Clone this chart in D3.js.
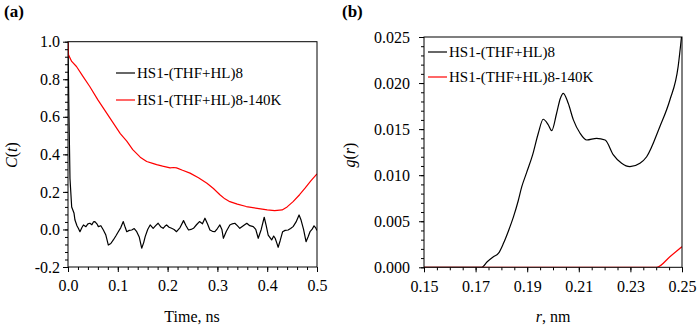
<!DOCTYPE html>
<html>
<head>
<meta charset="utf-8">
<script src="https://cdn.jsdelivr.net/npm/d3@7"></script>
<style>
  body { margin: 0; background: #fff; }
  text { font-family: "Liberation Serif", "Times New Roman", serif; fill: #000; }
</style>
</head>
<body>
<svg id="chart" width="697" height="332"></svg>
<script>
/* data */
const seriesNames = ["HS1-(THF+HL)8", "HS1-(THF+HL)8-140K"];

// panel (a): C(t)
const aBlackT = [0, 0.002, 0.004, 0.0074, 0.012, 0.014, 0.018, 0.021, 0.024, 0.028, 0.031, 0.036, 0.04, 0.044, 0.048,
  0.051, 0.054, 0.058, 0.061, 0.066, 0.071, 0.076, 0.081, 0.086, 0.091, 0.096, 0.101, 0.106, 0.111, 0.115, 0.118,
  0.123, 0.128, 0.133, 0.138, 0.143, 0.148, 0.152, 0.155, 0.16, 0.165, 0.168, 0.171, 0.176, 0.181, 0.186, 0.191,
  0.195, 0.198, 0.203, 0.208, 0.213, 0.218, 0.225, 0.232, 0.237, 0.242, 0.247, 0.252, 0.258, 0.264, 0.27, 0.275,
  0.28, 0.285, 0.29, 0.295, 0.3, 0.305, 0.309, 0.312, 0.318, 0.325, 0.33, 0.335, 0.34, 0.345, 0.352, 0.359, 0.365,
  0.372, 0.377, 0.382, 0.388, 0.394, 0.398, 0.402, 0.406, 0.409, 0.413, 0.416, 0.419, 0.422, 0.426, 0.431, 0.436,
  0.442, 0.447, 0.452, 0.458, 0.464, 0.468, 0.473, 0.478, 0.482, 0.486, 0.49, 0.494, 0.497, 0.5];
const aBlack = [1.0, 0.6, 0.27, 0.12, 0.088, 0.05, 0.02, 0.005, -0.012, 0.01, 0.024, 0.015, 0.03, 0.033, 0.025,
  0.04, 0.042, 0.03, 0.015, 0.02, -0.003, -0.03, -0.083, -0.075, -0.056, -0.035, -0.012, 0.01, 0.042, 0.01, -0.012,
  -0.005, -0.003, 0.005, -0.012, -0.04, -0.1, -0.07, -0.038, 0.0, 0.024, 0.015, 0.006, 0.02, 0.033, 0.015, 0.006,
  0.018, 0.024, 0.012, 0.006, 0.0, -0.012, 0.01, 0.047, 0.02, -0.003, 0.0, 0.006, 0.025, 0.042, 0.03, 0.06,
  0.03, -0.003, -0.01, -0.012, 0.005, 0.024, 0.0, -0.047, -0.01, 0.024, 0.03, 0.033, 0.02, 0.006, 0.02, 0.033, 0.02,
  0.015, 0.0, -0.047, 0.0, 0.065, 0.02, -0.03, -0.045, -0.056, -0.035, -0.047, -0.07, -0.095, -0.06, -0.012, -0.005,
  -0.003, 0.005, 0.015, 0.04, 0.077, 0.05, 0.0, -0.065, -0.04, -0.012, 0.0, 0.019, 0.01, -0.006];

const aRedT = [0, 0.001, 0.0074, 0.017, 0.03, 0.044, 0.06, 0.075, 0.09, 0.105, 0.118, 0.13, 0.145, 0.158, 0.17,
  0.178, 0.19, 0.205, 0.212, 0.218, 0.23, 0.245, 0.262, 0.279, 0.292, 0.305, 0.315, 0.325, 0.34, 0.358, 0.38,
  0.4, 0.415, 0.43, 0.44, 0.452, 0.465, 0.476, 0.488, 0.5];
const aRed = [1.0, 0.93, 0.895, 0.868, 0.815, 0.76, 0.69, 0.63, 0.57, 0.51, 0.47, 0.425, 0.385, 0.362, 0.352,
  0.345, 0.337, 0.328, 0.33, 0.328, 0.315, 0.3, 0.275, 0.246, 0.218, 0.185, 0.163, 0.148, 0.135, 0.122, 0.112,
  0.104, 0.1, 0.104, 0.12, 0.148, 0.185, 0.22, 0.26, 0.296];

const aXTicks = [0, 0.1, 0.2, 0.3, 0.4, 0.5];
const aYTicks = [-0.2, 0, 0.2, 0.4, 0.6, 0.8, 1.0];

// panel (b): g(r)
const bBlackR = [0.15, 0.1724, 0.1745, 0.1769, 0.1788, 0.1808, 0.1828, 0.1847, 0.1865, 0.1879, 0.1898, 0.1921,
  0.1943, 0.1962, 0.1982, 0.1995, 0.2014, 0.2028, 0.204, 0.2059, 0.2079, 0.2105, 0.2131, 0.2169, 0.2202, 0.2234,
  0.2266, 0.2298, 0.2337, 0.2363, 0.2414, 0.2453, 0.2485, 0.2498];
const bBlack = [0, 0, 0.0006, 0.00115, 0.0015, 0.0026, 0.004, 0.0055, 0.0072, 0.00875, 0.0103, 0.0122,
  0.01455, 0.01607, 0.01545, 0.01483, 0.01672, 0.0183, 0.01889, 0.0178, 0.016, 0.01455, 0.01382, 0.014, 0.01382, 0.0122,
  0.01129, 0.01092, 0.01129, 0.012, 0.01526, 0.01816, 0.02178, 0.025];

const bRedR = [0.15, 0.2402, 0.2453, 0.25];
const bRed = [0, 0, 0.00115, 0.00224];

const bXTicks = [0.15, 0.17, 0.19, 0.21, 0.23, 0.25];
const bYTicks = [0, 0.005, 0.01, 0.015, 0.02, 0.025];

const svg = d3.select("#chart");
svg.append("rect").attr("width", 697).attr("height", 332).attr("fill", "#fff");

function panel(opt) {
  const x = d3.scaleLinear().domain(opt.xDomain).range(opt.xRange);
  const y = d3.scaleLinear().domain(opt.yDomain).range(opt.yRange);
  const g = svg.append("g");

  // minor ticks first
  g.append("g")
    .attr("transform", `translate(0,${opt.yRange[0]})`)
    .call(d3.axisBottom(x).tickValues(opt.xMinor).tickSize(3).tickFormat(""))
    .call(s => s.select(".domain").remove());
  g.append("g")
    .attr("transform", `translate(${opt.xRange[0]},0)`)
    .call(d3.axisLeft(y).tickValues(opt.yMinor).tickSize(3).tickFormat(""))
    .call(s => s.select(".domain").remove());

  const xa = g.append("g")
    .attr("transform", `translate(0,${opt.yRange[0]})`)
    .call(d3.axisBottom(x).tickValues(opt.xTicks).tickSize(5).tickPadding(8).tickFormat(opt.xFmt));
  const ya = g.append("g")
    .attr("transform", `translate(${opt.xRange[0]},0)`)
    .call(d3.axisLeft(y).tickValues(opt.yTicks).tickSize(5).tickPadding(opt.yPad).tickFormat(opt.yFmt));
  [xa, ya].forEach(a => {
    a.select(".domain").remove();
    a.selectAll("text").style("font-family", '"Liberation Serif", serif').style("font-size", "16px").attr("fill", "#000");
  });
  g.selectAll(".tick line").attr("stroke", "#000");

  const clipId = "clip" + opt.id;
  g.append("clipPath").attr("id", clipId).append("rect")
    .attr("x", opt.xRange[0]).attr("y", opt.yRange[1])
    .attr("width", opt.xRange[1] - opt.xRange[0]).attr("height", opt.yRange[0] - opt.yRange[1]);

  opt.series.forEach(s => {
    const line = d3.line().x((d, i) => x(s.xs[i])).y(d => y(d)).curve(opt.curve);
    g.append("path")
      .datum(s.ys)
      .attr("clip-path", `url(#${clipId})`)
      .attr("d", line)
      .attr("fill", "none")
      .attr("stroke", s.color)
      .attr("stroke-width", 1.2)
      .attr("stroke-linejoin", "round");
  });

  g.append("rect")
    .attr("x", opt.xRange[0]).attr("y", opt.yRange[1])
    .attr("width", opt.xRange[1] - opt.xRange[0]).attr("height", opt.yRange[0] - opt.yRange[1])
    .attr("fill", "none").attr("stroke", "#000").attr("stroke-width", 1);

  // legend
  opt.series.forEach((s, i) => {
    const ly = opt.legend.y + i * opt.legend.gap;
    g.append("line")
      .attr("x1", opt.legend.x).attr("x2", opt.legend.x + 19)
      .attr("y1", ly).attr("y2", ly)
      .attr("stroke", s.color).attr("stroke-width", 1.2);
    g.append("text")
      .attr("x", opt.legend.x + 21).attr("y", ly + 5)
      .style("font-size", "15px")
      .text(seriesNames[i]);
  });
  return g;
}

panel({
  id: "a",
  xDomain: [0, 0.5], xRange: [68, 317],
  yDomain: [-0.2, 1.0], yRange: [267, 41.7],
  xTicks: aXTicks, yTicks: aYTicks,
  xMinor: d3.range(0, 26).map(i => i * 0.02),
  yMinor: d3.range(0, 31).map(i => -0.2 + i * 0.04),
  xFmt: d => d.toFixed(1), yFmt: d => d.toFixed(1), yPad: 3,
  curve: d3.curveLinear,
  series: [
    { xs: aBlackT, ys: aBlack, color: "#000" },
    { xs: aRedT, ys: aRed, color: "#ff0000" }
  ],
  legend: { x: 116, y: 73, gap: 27 }
});

panel({
  id: "b",
  xDomain: [0.15, 0.25], xRange: [424, 682],
  yDomain: [0, 0.025], yRange: [267.3, 37],
  xTicks: bXTicks, yTicks: bYTicks,
  xMinor: d3.range(0, 21).map(i => 0.15 + i * 0.005),
  yMinor: d3.range(0, 26).map(i => i * 0.001),
  xFmt: d => d.toFixed(2), yFmt: d => d.toFixed(3), yPad: 9,
  curve: d3.curveMonotoneX,
  series: [
    { xs: bBlackR, ys: bBlack, color: "#000" },
    { xs: bRedR, ys: bRed, color: "#ff0000" }
  ],
  legend: { x: 428, y: 52, gap: 25 }
});

// panel letters and axis titles
svg.append("text").attr("x", 4).attr("y", 17).style("font-size", "17px").style("font-weight", "bold").text("(a)");
svg.append("text").attr("x", 342).attr("y", 17).style("font-size", "17px").style("font-weight", "bold").text("(b)");

svg.append("text").attr("x", 192).attr("y", 322).attr("text-anchor", "middle").style("font-size", "16px").text("Time, ns");
const rt = svg.append("text").attr("x", 553).attr("y", 322).attr("text-anchor", "middle").style("font-size", "16px");
rt.append("tspan").style("font-style", "italic").text("r");
rt.append("tspan").text(", nm");

const ct = svg.append("text").attr("transform", "translate(17,155) rotate(-90)").attr("text-anchor", "middle").style("font-size", "16px");
ct.append("tspan").style("font-style", "italic").text("C");
ct.append("tspan").text("(");
ct.append("tspan").style("font-style", "italic").text("t");
ct.append("tspan").text(")");

const gt = svg.append("text").attr("transform", "translate(355,155) rotate(-90)").attr("text-anchor", "middle").style("font-size", "16px");
gt.append("tspan").style("font-style", "italic").text("g");
gt.append("tspan").text("(");
gt.append("tspan").style("font-style", "italic").text("r");
gt.append("tspan").text(")");
</script>
</body>
</html>
